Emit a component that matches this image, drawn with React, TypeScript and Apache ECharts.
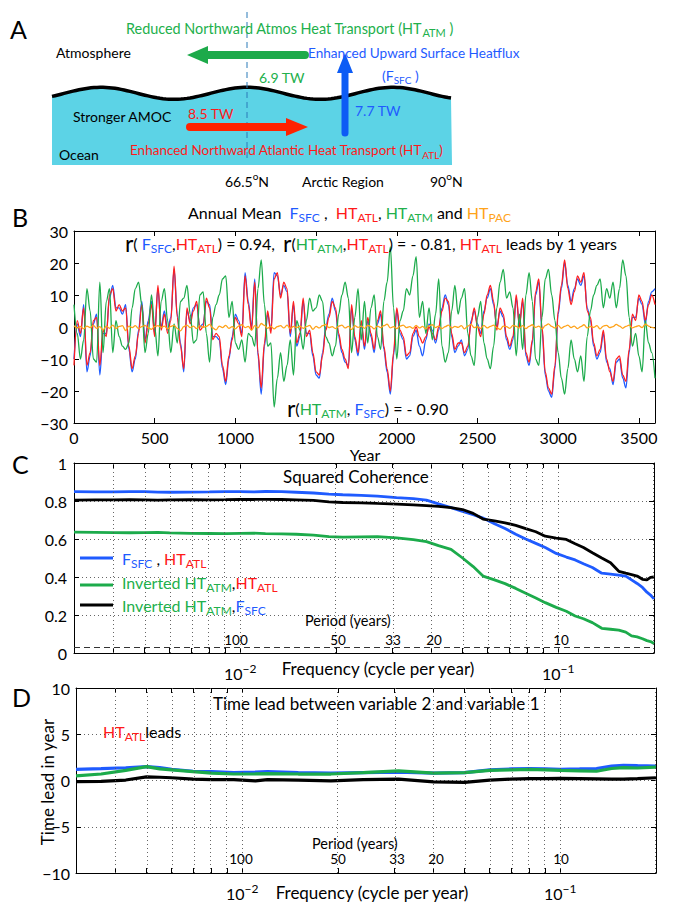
import React, { useEffect, useRef } from 'react';
import * as echarts from 'echarts';

// ---------------- Panel B data (annual mean, sampled every 20 years) ----------------
const YEAR_STEP = 20;
const bXTicks = [0, 500, 1000, 1500, 2000, 2500, 3000, 3500];
const fSfc = [
  -10, 1, -3, 7, -14, -9, 1, 4, -15, -2,
  -2, 9, 13, 6, 6, 4, 7, -7, -14, -10,
  -1, 8, -4, 2, 8, -2, 12, 0, 5, -1,
  3, 18, 4, -5, -14, 5, 2, 6, 7, 0,
  1, 8, 7, -3, -3, -4, -13, -18, -10, -3,
  4, 2, -2, 17, 8, 0, 15, -9, -21, -6,
  4, -1, 17, 16, 10, 13, 11, -3, 7, -6,
  -3, 8, -2, -2, -9, -15, -16, -8, 0, 4,
  9, 5, -3, -8, -11, -12, 6, -4, -9, 1,
  -7, 2, -3, -8, 1, 4, -7, -14, -21, -9,
  5, -2, -4, -10, -9, -3, -1, -6, -9, -4,
  1, -1, -5, -1, 6, 10, 7, -3, -8, -6,
  -4, -9, -7, 2, 5, 1, -2, 5, 9, 12,
  7, 0, 5, 3, -4, -7, -4, 9, 1, 8,
  -9, -12, -5, 10, 14, -1, -15, -20, -22, -13,
  4, 12, 20, 13, 8, 12, 15, 13, 16, 6,
  2, -6, -10, -8, -2, -11, -13, -18, -11, -10,
  -16, -19, -8, 3, 3, 9, 7, 1, 8, 11, 12,
];
const htAtl = [
  -12, 2, -2, 6, -12, -8, 2, 3, -12, -1,
  -3, 10, 12, 5, 7, 5, 6, -6, -13, -9,
  -2, 7, -5, 1, 7, -3, 13, -1, 4, -2,
  2, 19, 3, -6, -13, 6, 1, 5, 8, -1,
  0, 9, 6, -4, -2, -3, -12, -17, -9, -4,
  3, 1, -3, 16, 7, -1, 14, -8, -19, -5,
  5, -2, 15, 17, 9, 14, 12, -2, 8, -5,
  -2, 9, -3, -1, -8, -14, -15, -9, -1, 3,
  8, 6, -2, -7, -10, -13, 7, -3, -8, 2,
  -6, 3, -2, -7, 2, 5, -6, -13, -20, -8,
  6, -1, -3, -9, -8, -2, 0, -3, -5, -3,
  0, -2, -4, 0, 5, 9, 8, -2, -7, -5,
  -5, -8, -6, 1, 6, 0, -3, 4, 10, 13,
  8, -1, 6, 4, -3, -6, -3, 10, 0, 9,
  -8, -11, -4, 11, 15, 0, -14, -19, -21, -12,
  5, 13, 21, 12, 7, 11, 16, 14, 17, 5,
  3, -5, -9, -7, -1, -10, -14, -17, -10, -9,
  -15, -17, -7, 4, 2, 10, 8, 2, 7, 10, 7,
];
const htAtm = [
  7, -2, -10, -4, 12, 5, -10, -11, 14, -8,
  8, 12, -8, 2, -3, -6, -7, -5, 6, 12,
  14, 7, -8, -2, 10, 0, -9, 8, 12, 2,
  -8, 1, -5, 8, 9, 13, 4, -5, -4, 10,
  11, -2, -11, 3, 7, 10, 15, 16, 3, 8,
  -5, -7, -4, -11, -2, -3, -6, 12, 21, 7,
  -6, -5, -25, -16, -8, -17, -12, -4, -15, 2,
  -1, -7, 2, 9, 5, 6, 10, 8, -3, -5,
  -9, -6, 4, 10, 14, 9, -8, 3, 12, -4,
  8, -5, 6, 10, -3, -7, 8, 14, 25, 6,
  -10, 2, 5, 12, 10, 16, 22, 3, 8, -2,
  6, -4, 4, 15, -6, -11, -8, 5, 13, 4,
  9, 12, -2, -9, -12, 3, 8, -5, -10, -13,
  -6, 6, 14, 18, 9, 11, 6, -9, 4, -7,
  10, 17, 8, -10, -12, 3, 15, 18, 10, 2,
  -8, -16, -21, -13, -4, -10, -14, -9, -17, -3,
  5, 10, 13, 15, 6, 12, 9, 14, 6, 12,
  21, 16, 3, -6, -2, -9, -14, 2, -5, -8, -16,
];
const htPac = [
  0.4, -0.3, 0.2, -0.6, 0.3, -0.2, 0.5, -0.4, 0.1, -0.9,
  0.3, -0.4, 0.6, -0.5, 0.2, 0.4, -1.1, 0.3, -0.2, 0.4,
  -0.5, 0.1, 0.5, -0.3, -0.7, 0.2, 0.4, -0.1, 0.3, -0.6,
  0.2, 0.5, -0.4, -1.2, 0.1, 0.6, -0.2, 0.3, -0.5, 0.4,
  -0.1, 0.2, 0.8, -0.3, -0.9, 0.3, -0.2, 0.5, -0.4, 0.1,
  -0.6, 0.3, 0.7, -0.2, 0.2, -1.0, 0.4, -0.3, 1.1, 0.5,
  -0.4, 0.2, -0.6, 0.1, 0.4, -0.3, 0.6, -0.5, 0.2, -0.2,
  0.3, -0.4, 0.1, 0.5, -0.7, 0.2, -0.3, 0.4, 0.8, -0.2,
  0.1, -0.5, 0.3, 0.6, -0.3, 0.2, -0.8, 0.4, -0.1, 0.3,
  -0.4, 0.5, 0.2, -0.6, 0.3, -0.2, 0.4, 0.9, -0.3, 0.1,
  -0.5, 0.3, 0.6, -0.2, 0.1, -0.4, 0.5, -0.3, 0.2, -0.6,
  0.4, 0.7, -0.2, 0.3, -0.5, 0.1, 0.6, -0.3, 0.2, -0.1,
  0.4, -0.6, 0.3, 0.8, -0.2, 0.1, -0.4, 0.5, -0.3, 0.2,
  0.6, -0.2, -0.8, 0.3, 0.1, -0.4, 0.5, 0.2, -0.3, 0.4,
  -0.5, 0.2, 0.7, -0.1, 0.3, -0.6, 0.4, 1.0, 0.2, -0.3,
  0.5, -0.4, 0.2, 0.6, -0.2, 0.3, -0.5, 0.1, 0.7, -0.3,
  0.2, -0.1, 0.4, -0.6, 0.3, 0.5, -0.2, 0.1, 0.8, 0.3,
  -0.4, 0.2, 0.6, -0.3, 0.1, 0.4, -0.2, 0.9, 0.3, -0.1, -0.4,
];

// ---------------- Panel C data (squared coherence vs frequency) ----------------
const cFreq = [
  0.003, 0.0035, 0.004, 0.0045, 0.005, 0.0055, 0.006, 0.007, 0.008, 0.009,
  0.01, 0.011, 0.012, 0.0135, 0.015, 0.017, 0.019, 0.021, 0.024, 0.027,
  0.031, 0.035, 0.0385, 0.042, 0.046, 0.05, 0.054, 0.058, 0.063, 0.068,
  0.0735, 0.079, 0.085, 0.091, 0.0985, 0.106, 0.113, 0.12, 0.128, 0.137,
  0.146, 0.155, 0.163, 0.17, 0.177, 0.184, 0.19, 0.195, 0.2,
];
const cohFsfcAtl = [
  0.849, 0.848, 0.848, 0.849, 0.849, 0.847, 0.846, 0.847, 0.848, 0.849,
  0.849, 0.848, 0.850, 0.849, 0.846, 0.842, 0.836, 0.833, 0.830, 0.826,
  0.818, 0.812, 0.805, 0.785, 0.765, 0.745, 0.728, 0.710, 0.680, 0.655,
  0.625, 0.600, 0.577, 0.555, 0.524, 0.505, 0.490, 0.470, 0.450, 0.420,
  0.415, 0.410, 0.405, 0.385, 0.366, 0.345, 0.320, 0.305, 0.285,
];
const cohAtmAtl = [
  0.636, 0.635, 0.634, 0.633, 0.634, 0.635, 0.632, 0.630, 0.629, 0.628,
  0.630, 0.631, 0.628, 0.627, 0.625, 0.620, 0.612, 0.610, 0.611, 0.612,
  0.606, 0.597, 0.586, 0.565, 0.545, 0.500, 0.455, 0.405, 0.385, 0.365,
  0.340, 0.315, 0.290, 0.265, 0.240, 0.220, 0.195, 0.180, 0.160, 0.130,
  0.125, 0.120, 0.110, 0.090, 0.085, 0.075, 0.065, 0.060, 0.050,
];
const cohAtmFsfc = [
  0.805, 0.806, 0.806, 0.807, 0.806, 0.805, 0.806, 0.807, 0.806, 0.807,
  0.808, 0.808, 0.809, 0.808, 0.806, 0.803, 0.795, 0.792, 0.790, 0.787,
  0.784, 0.780, 0.776, 0.772, 0.765, 0.755, 0.735, 0.705, 0.695, 0.685,
  0.672, 0.655, 0.638, 0.615, 0.605, 0.598, 0.575, 0.555, 0.528, 0.500,
  0.475, 0.430, 0.420, 0.413, 0.405, 0.388, 0.385, 0.398, 0.400,
];
const cohSignificance = 0.025;

// ---------------- Panel D data (time lead, years) ----------------
const dFreq = [
  0.003, 0.0036, 0.0043, 0.005, 0.0055, 0.006, 0.007, 0.008, 0.0094, 0.011,
  0.012, 0.015, 0.019, 0.024, 0.031, 0.04, 0.05, 0.06, 0.07, 0.08,
  0.09, 0.1, 0.115, 0.13, 0.145, 0.158, 0.175, 0.2,
];
const leadFsfcAtl = [
  1.2, 1.28, 1.38, 1.5, 1.4, 1.2, 1.0, 0.95, 0.85, 0.9,
  0.95, 0.85, 0.8, 0.85, 0.9, 0.8, 0.85, 1.15, 1.25, 1.3,
  1.25, 1.2, 1.25, 1.3, 1.55, 1.65, 1.6, 1.55,
];
const leadAtmAtl = [
  0.5, 0.7, 1.1, 1.5, 1.25, 1.15, 0.95, 0.8, 0.7, 0.72,
  0.75, 0.7, 0.7, 0.85, 1.05, 0.8, 0.85, 1.1, 1.15, 1.2,
  1.15, 1.1, 1.05, 1.0, 1.3, 1.4, 1.35, 1.45,
];
const leadAtmFsfc = [
  -0.13, -0.1, 0.05, 0.4, 0.35, 0.3, 0.15, 0.1, 0.1, -0.05,
  0.1, 0.05, -0.05, 0.1, 0.15, -0.15, -0.2, 0.05, 0.15, 0.2,
  0.2, 0.22, 0.2, 0.18, 0.15, 0.15, 0.2, 0.3,
];

// log-axis grid / tick positions (cycles per year)
const gridFreqs = [0.004, 0.005, 0.006, 0.007, 0.008, 0.009, 0.01, 0.02, 0.03, 0.04, 0.05, 0.06, 0.07, 0.08, 0.09, 0.1, 0.2];
const freqMin = 0.003;
const freqMax = 0.2;
const periodLabels = ['100', '50', '33', '20', '10'];

// ---------------- styling ----------------
const FONT = 'Lato, "Open Sans", sans-serif';
const BLUE = '#1f5bff';
const RED = '#ff1f1f';
const GREEN = '#1cab4b';
const ORANGE = '#ffa31a';
const TXT_GREEN = '#22b04c';
const TXT_BLUE = '#1f5bff';
const TXT_RED = '#ff1a1a';

function rich(size: number) {
  const sub = Math.round(size * 0.74);
  const lh = size + 6;
  const base = { fontFamily: FONT, fontSize: size, lineHeight: lh };
  const s = { fontFamily: FONT, fontSize: sub, lineHeight: sub, verticalAlign: 'bottom' };
  const sp = { fontFamily: FONT, fontSize: sub, lineHeight: sub, verticalAlign: 'top' };
  const c = (col: string) => ({ fill: col, color: col });
  return {
    k: { ...base, ...c('#000') },
    b: { ...base, ...c(TXT_BLUE) },
    bs: { ...s, ...c(TXT_BLUE) },
    rd: { ...base, ...c(TXT_RED) },
    rds: { ...s, ...c(TXT_RED) },
    g: { ...base, ...c(TXT_GREEN) },
    gs: { ...s, ...c(TXT_GREEN) },
    o: { ...base, ...c(ORANGE) },
    os: { ...s, ...c(ORANGE) },
    r: { fontFamily: FONT, fontSize: Math.round(size * 1.45), lineHeight: lh, ...c('#000') },
    sup: { ...sp, ...c('#000') },
  };
}

function txt(x: number, y: number, text: string, size: number, color = '#000', align = 'left', extra: any = {}) {
  return {
    type: 'text',
    x,
    y,
    z: 10,
    silent: true,
    ...extra,
    style: {
      text,
      fill: color,
      fontFamily: FONT,
      fontSize: size,
      align,
      verticalAlign: 'middle',
      textAlign: align,
      textVerticalAlign: 'middle',
      rich: rich(size),
    },
  };
}

const minusFmt = (v: number) => (v < 0 ? '\u2212' + Math.abs(v) : String(v));

function boxAxes(gridIndex: number, pos: string, min: number, max: number, interval: number | undefined, withLabel: boolean, labelOpts: any = {}, tickValues?: number[]) {
  const a: any = {
    type: 'value',
    gridIndex,
    position: pos,
    min,
    max,
    axisLine: { show: true, onZero: false, lineStyle: { color: '#000', width: 1 } },
    axisTick: { show: true, inside: true, length: 5, lineStyle: { color: '#000', width: 1 } },
    axisLabel: { show: withLabel, color: '#000', fontFamily: FONT, fontSize: 16, ...labelOpts },
    splitLine: { show: false },
  };
  if (interval !== undefined) a.interval = interval;
  if (tickValues) a.axisTick.customValues = tickValues;
  return a;
}

function buildOption() {
  const years = fSfc.map((_, i) => i * YEAR_STEP);
  const lmin = Math.log10(freqMin);
  const lmax = Math.log10(freqMax);
  const gridTicks = gridFreqs.map((f) => Math.log10(f));
  const logLabel = {
    customValues: [-2, -1],
    margin: 9,
    formatter: (v: number) => (Math.round(v) === -2 ? '{b|10}{s|\u22122}' : '{b|10}{s|\u22121}'),
    rich: {
      b: { fontFamily: FONT, fontSize: 16, lineHeight: 22, color: '#000' },
      s: { fontFamily: FONT, fontSize: 12, lineHeight: 12, verticalAlign: 'top', color: '#000' },
    },
  };

  const xAxis = [
    boxAxes(0, 'bottom', 0, 3600, 500, true, { margin: 6, formatter: (v: number) => (bXTicks.includes(v) ? String(v) : '') }),
    boxAxes(0, 'top', 0, 3600, 500, false),
    boxAxes(1, 'bottom', lmin, lmax, undefined, true, logLabel, gridTicks),
    boxAxes(1, 'top', lmin, lmax, undefined, false, {}, gridTicks),
    boxAxes(2, 'bottom', lmin, lmax, undefined, true, logLabel, gridTicks),
    boxAxes(2, 'top', lmin, lmax, undefined, false, {}, gridTicks),
  ];
  const dotted = { show: true, lineStyle: { color: '#555', width: 0.9, type: [1, 3] } };
  const yAxis = [
    boxAxes(0, 'left', -30, 30, 10, true, { margin: 6, formatter: minusFmt }),
    boxAxes(0, 'right', -30, 30, 10, false),
    { ...boxAxes(1, 'left', 0, 1, 0.2, true, { margin: 7 }), splitLine: dotted },
    boxAxes(1, 'right', 0, 1, 0.2, false),
    { ...boxAxes(2, 'left', -10, 10, 5, true, { margin: 6, formatter: minusFmt }), splitLine: dotted },
    boxAxes(2, 'right', -10, 10, 5, false),
  ];

  const line = (xi: number, yi: number, data: number[][], color: string, width: number, smooth: number | boolean = false) => ({
    type: 'line',
    xAxisIndex: xi,
    yAxisIndex: yi,
    data,
    showSymbol: false,
    symbol: 'none',
    silent: true,
    smooth,
    smoothMonotone: 'x',
    z: 2,
    lineStyle: { color, width },
    emphasis: { disabled: true },
  });

  // invisible carrier series for the dotted log grid (and the dashed significance level)
  const gridMarks = (xi: number, yi: number, yBelow: number, extra: any[] = []) => ({
    type: 'line',
    xAxisIndex: xi,
    yAxisIndex: yi,
    data: [[lmin, yBelow], [lmax, yBelow]],
    showSymbol: false,
    symbol: 'none',
    lineStyle: { opacity: 0, width: 0 },
    z: 1,
    silent: true,
    markLine: {
      silent: true,
      symbol: ['none', 'none'],
      label: { show: false },
      emphasis: { disabled: true },
      lineStyle: { color: '#555', width: 0.9, type: [1, 3] },
      data: [...gridFreqs.map((f) => ({ xAxis: Math.log10(f) })), ...extra],
    },
  });

  const series: any[] = [
    gridMarks(2, 2, -5, [{ yAxis: cohSignificance, lineStyle: { color: '#333', width: 1, type: [6, 4] } }]),
    gridMarks(4, 4, -50),
    line(0, 0, years.map((y, i) => [y, fSfc[i]]), BLUE, 1.3, 0.35),
    line(0, 0, years.map((y, i) => [y, htAtl[i]]), RED, 1.3, 0.35),
    line(0, 0, years.map((y, i) => [y, htAtm[i]]), GREEN, 1.3, 0.35),
    line(0, 0, years.map((y, i) => [y, htPac[i]]), ORANGE, 1.3, 0.35),
    line(2, 2, cFreq.map((f, i) => [Math.log10(f), cohFsfcAtl[i]]), BLUE, 2.8),
    line(2, 2, cFreq.map((f, i) => [Math.log10(f), cohAtmAtl[i]]), GREEN, 2.8),
    line(2, 2, cFreq.map((f, i) => [Math.log10(f), cohAtmFsfc[i]]), '#000', 2.8),
    line(4, 4, dFreq.map((f, i) => [Math.log10(f), leadFsfcAtl[i]]), BLUE, 3.2),
    line(4, 4, dFreq.map((f, i) => [Math.log10(f), leadAtmAtl[i]]), GREEN, 3.2),
    line(4, 4, dFreq.map((f, i) => [Math.log10(f), leadAtmFsfc[i]]), '#000', 3.2),
  ];

  // ---- Panel A schematic ----
  const wave: number[][] = [];
  for (let x = 52; x <= 452; x += 3) {
    wave.push([x, 93.3 - 6 * Math.cos((2 * Math.PI * (x - 247)) / 146)]);
  }
  const ocean = [...wave, [452, 165], [52, 165]];

  const graphic: any[] = [
    { type: 'polygon', shape: { points: ocean }, style: { fill: '#5cd3e6' }, z: 1, silent: true },
    { type: 'polyline', shape: { points: wave }, style: { stroke: '#000', lineWidth: 3.5, fill: null }, z: 2, silent: true },
    { type: 'line', shape: { x1: 247, y1: 12, x2: 247, y2: 158 }, style: { stroke: '#2a7ab8', lineWidth: 1, lineDash: [6, 4] }, z: 3, silent: true },
    { type: 'line', shape: { x1: 305, y1: 55, x2: 204, y2: 55 }, style: { stroke: '#1daa4a', lineWidth: 8, lineCap: 'round' }, z: 4, silent: true },
    { type: 'polygon', shape: { points: [[187, 55], [208, 46], [208, 64]] }, style: { fill: '#1daa4a' }, z: 4, silent: true },
    { type: 'line', shape: { x1: 190, y1: 127, x2: 290, y2: 127 }, style: { stroke: '#ff2200', lineWidth: 8, lineCap: 'round' }, z: 4, silent: true },
    { type: 'polygon', shape: { points: [[308, 127], [286, 118], [286, 136]] }, style: { fill: '#ff2200' }, z: 4, silent: true },
    { type: 'line', shape: { x1: 345, y1: 133, x2: 345, y2: 70 }, style: { stroke: '#0d5cf5', lineWidth: 7, lineCap: 'round' }, z: 4, silent: true },
    { type: 'polygon', shape: { points: [[345, 53], [337, 73], [353, 73]] }, style: { fill: '#0d5cf5' }, z: 4, silent: true },

    txt(10, 29, 'A', 25),
    txt(126, 28, '{g|Reduced Northward Atmos Heat Transport (HT}{gs|ATM}{g| )}', 14.4),
    txt(56, 52, 'Atmosphere', 14),
    txt(308, 53, 'Enhanced Upward Surface Heatflux', 13.6, TXT_BLUE),
    txt(382, 75, '{b|(F}{bs|SFC}{b| )}', 14),
    txt(259, 77, '6.9 TW', 14, TXT_GREEN),
    txt(73, 116, 'Stronger AMOC', 14),
    txt(188, 113, '8.5 TW', 14, TXT_RED),
    txt(355, 110, '7.7 TW', 14, TXT_BLUE),
    txt(59, 154, 'Ocean', 14),
    txt(130, 150, '{rd|Enhanced Northward Atlantic Heat Transport (HT}{rds|ATL}{rd|)}', 13.5),
    txt(225, 181, '{k|66.5}{sup|o}{k|N}', 14),
    txt(302, 181, 'Arctic Region', 14),
    txt(430, 181, '{k|90}{sup|o}{k|N}', 14),

    txt(12, 217, 'B', 25),
    txt(188, 212, '{k|Annual Mean  }{b|F}{bs|SFC}{k| ,  }{rd|HT}{rds|ATL}{k|, }{g|HT}{gs|ATM}{k| and }{o|HT}{os|PAC}', 16),
    txt(125, 243, '{r|r}{k|( }{b|F}{bs|SFC}{k|,}{rd|HT}{rds|ATL}{k|) = 0.94,  }{r|r}{k|(}{g|HT}{gs|ATM}{k|,}{rd|HT}{rds|ATL}{k|) = - 0.81, }{rd|HT}{rds|ATL}{k| leads by 1 years}', 16),
    txt(287, 408, '{r|r}{k|(}{g|HT}{gs|ATM}{k|, }{b|F}{bs|SFC}{k|) = - 0.90}', 16),
    txt(365, 454, 'Year', 16, '#000', 'center'),

    txt(12, 464, 'C', 25),
    txt(283, 476, 'Squared Coherence', 17),
    { type: 'line', shape: { x1: 80, y1: 558, x2: 113, y2: 558 }, style: { stroke: BLUE, lineWidth: 2.8 }, z: 10, silent: true },
    { type: 'line', shape: { x1: 80, y1: 585, x2: 113, y2: 585 }, style: { stroke: GREEN, lineWidth: 2.8 }, z: 10, silent: true },
    { type: 'line', shape: { x1: 80, y1: 605, x2: 113, y2: 605 }, style: { stroke: '#000', lineWidth: 2.8 }, z: 10, silent: true },
    txt(122, 558, '{b|F}{bs|SFC}{k| , }{rd|HT}{rds|ATL}', 16),
    txt(122, 582, '{g|Inverted HT}{gs|ATM}{k|,}{rd|HT}{rds|ATL}', 16),
    txt(122, 605, '{g|Inverted HT}{gs|ATM}{k|,}{b|F}{bs|SFC}', 16),
    txt(305, 620, 'Period (years)', 14.5),
    txt(236, 640, periodLabels[0], 13.5, '#000', 'center'),
    txt(338, 640, periodLabels[1], 13.5, '#000', 'center'),
    txt(393, 640, periodLabels[2], 13.5, '#000', 'center'),
    txt(434, 640, periodLabels[3], 13.5, '#000', 'center'),
    txt(561, 640, periodLabels[4], 13.5, '#000', 'center'),
    txt(378, 668, 'Frequency (cycle per year)', 17, '#000', 'center'),

    txt(12, 697, 'D', 25),
    txt(213, 703, 'Time lead between variable 2 and variable 1', 17),
    txt(103, 731, '{rd|HT}{rds|ATL}{k|leads}', 16),
    txt(312, 843, 'Period (years)', 14.5),
    txt(241, 859, periodLabels[0], 13.5, '#000', 'center'),
    txt(338, 859, periodLabels[1], 13.5, '#000', 'center'),
    txt(397, 859, periodLabels[2], 13.5, '#000', 'center'),
    txt(436, 859, periodLabels[3], 13.5, '#000', 'center'),
    txt(561, 859, periodLabels[4], 13.5, '#000', 'center'),
    txt(372, 892, 'Frequency (cycle per year)', 17, '#000', 'center'),
    txt(47, 782, 'Time lead in year', 17, '#000', 'center', { rotation: Math.PI / 2 }),
  ];

  return {
    animation: false,
    backgroundColor: '#fff',
    textStyle: { fontFamily: FONT },
    grid: [
      { left: 74, top: 231, width: 581, height: 192 },
      { left: 74, top: 463, width: 580, height: 190 },
      { left: 76, top: 688, width: 580, height: 185 },
    ],
    xAxis,
    yAxis,
    series,
    graphic,
  };
}

export default function App() {
  const ref = useRef<HTMLDivElement>(null);
  useEffect(() => {
    if (!ref.current) return;
    const chart = echarts.init(ref.current, null, { renderer: 'svg' });
    chart.setOption(buildOption() as any);
    return () => chart.dispose();
  }, []);
  return <div ref={ref} style={{ position: 'absolute', left: 0, top: 0, width: 674, height: 903, background: '#fff' }} />;
}
